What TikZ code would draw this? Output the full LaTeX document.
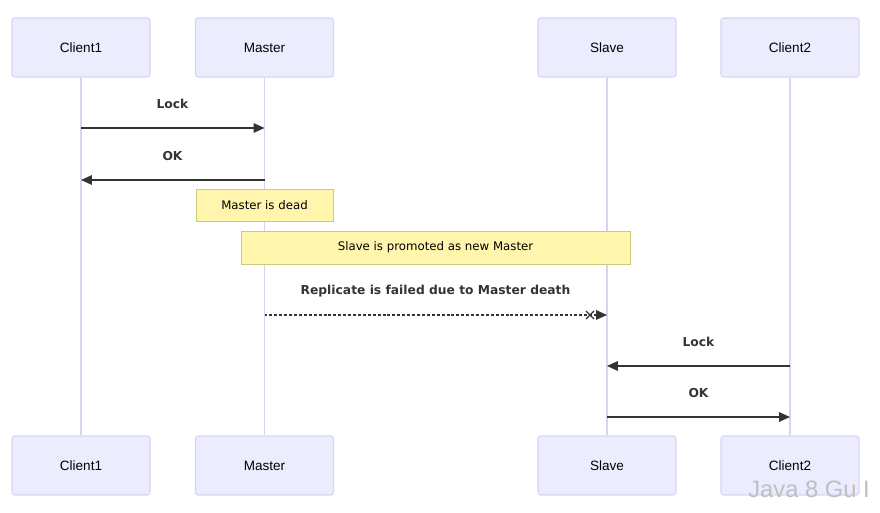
\documentclass[tikz,border=0pt]{standalone}
\usepackage{fontspec}
\setmainfont{Liberation Sans}
\newfontfamily\msgfont{DejaVu Sans}
\usepackage{tikz}
\usetikzlibrary{arrows.meta}

\definecolor{actorfill}{HTML}{ECECFF}
\definecolor{actorline}{HTML}{D9D2F6}
\definecolor{notefill}{HTML}{FFF5AD}
\definecolor{noteline}{HTML}{CFCB7E}
\definecolor{msgline}{HTML}{333333}

\begin{document}
\begin{tikzpicture}[
    x=0.02cm, y=-0.02cm,
    actor/.style={draw=actorline, fill=actorfill, rounded corners=1.5pt, line width=0.6pt,
                  minimum width=2.76cm, minimum height=1.18cm, font=\fontsize{7.7}{9}\selectfont},
    lifeline/.style={draw=actorline, line width=0.85pt},
    msg/.style={draw=msgline, line width=0.85pt, -{Triangle[length=6.2pt, width=5.4pt]}},
    msglabel/.style={font=\msgfont\bfseries\fontsize{7}{8}\selectfont, text=msgline},
    note/.style={draw=noteline, fill=notefill, line width=0.5pt, inner sep=0pt,
                 font=\msgfont\fontsize{6.7}{8}\selectfont},
]
\useasboundingbox (0,0) rectangle (880,513);

% Actors, top and bottom
\node[actor] (client1top) at (81,47.5) {Client1};
\node[actor] (mastertop) at (264.5,47.5) {Master};
\node[actor] (slavetop) at (607,47.5) {Slave};
\node[actor] (client2top) at (790,47.5) {Client2};
\node[actor] (client1bot) at (81,465.5) {Client1};
\node[actor] (masterbot) at (264.5,465.5) {Master};
\node[actor] (slavebot) at (607,465.5) {Slave};
\node[actor] (client2bot) at (790,465.5) {Client2};

% Lifelines
\draw[lifeline] (client1top) -- (client1bot);
\draw[lifeline] (mastertop) -- (masterbot);
\draw[lifeline] (slavetop) -- (slavebot);
\draw[lifeline] (client2top) -- (client2bot);

% Client1 <-> Master
\node[msglabel] (lock1) at (172.5,104) {Lock};
\draw[msg] (client1top |- 0,128) -- (mastertop |- 0,128);
\node[msglabel] (ok1) at (172.5,156) {OK};
\draw[msg] (mastertop |- 0,180) -- (client1top |- 0,180);

% Notes
\node[note, minimum width=2.74cm, minimum height=0.64cm] (dead) at (264.5,205) {Master is dead};
\node[note, minimum width=7.78cm, minimum height=0.66cm] (promoted) at (435.5,247.5) {Slave is promoted as new Master};

% Failed replication
\node[msglabel] (repl) at (435.5,291) {Replicate is failed due to Master death};
\draw[msg, dash pattern=on 1.7pt off 1.1pt] (mastertop |- 0,315) -- (slavetop |- 0,315);
\coordinate (cross) at (590,315);
\draw[draw=msgline, line width=0.7pt] (cross) +(-4,-4) -- +(4,4) +(-4,4) -- +(4,-4);

% Client2 <-> Slave
\node[msglabel] (lock2) at (698.5,342) {Lock};
\draw[msg] (client2top |- 0,366) -- (slavetop |- 0,366);
\node[msglabel] (ok2) at (698.5,393) {OK};
\draw[msg] (slavetop |- 0,417) -- (client2top |- 0,417);

% Watermark
\node[font=\fontsize{13.5}{15}\selectfont, text=gray!50] (mark) at (809,489) {Java 8 Gu I};
\end{tikzpicture}
\end{document}
